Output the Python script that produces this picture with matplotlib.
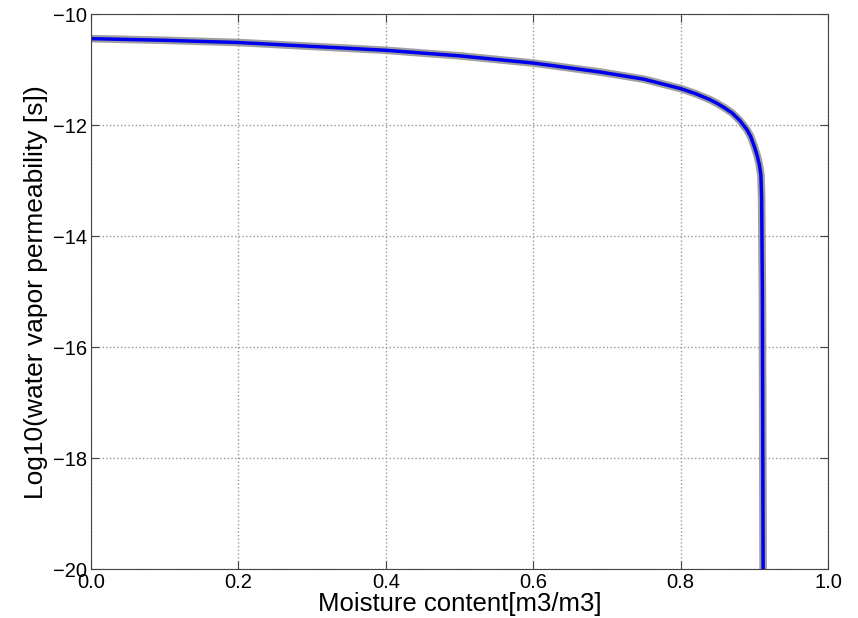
import numpy as np
import matplotlib
matplotlib.use("Agg")
import matplotlib.pyplot as plt

# values
moisture = [0.0, 0.1, 0.2, 0.3, 0.4, 0.5, 0.6, 0.69, 0.75, 0.8, 0.82, 0.84, 0.85, 0.86,
            0.87, 0.88, 0.89, 0.895, 0.9, 0.904, 0.907, 0.909, 0.910, 0.911, 0.912]
log_perm = [-10.44, -10.47, -10.51, -10.58, -10.65, -10.75, -10.88, -11.04, -11.17, -11.34,
            -11.43, -11.54, -11.61, -11.69, -11.78, -11.91, -12.08, -12.2, -12.38, -12.55,
            -12.72, -12.9, -13.3, -15.0, -20.0]

plt.rcParams['font.family'] = ['Liberation Sans', 'DejaVu Sans']

fig = plt.figure(figsize=(8.58, 6.18), dpi=100)
ax = fig.add_axes([0.106, 0.079, 0.859, 0.898])

# grey halo underneath, blue line on top
ax.plot(moisture, log_perm, color='grey', linewidth=5.5, alpha=0.75, solid_capstyle='butt')
ax.plot(moisture, log_perm, color='#0000ee', linewidth=2.5, solid_capstyle='butt')

ax.set_xlim(0, 1)
ax.set_ylim(-20, -10)
ax.set_xticks(np.arange(0, 1.01, 0.2))
ax.set_yticks(np.arange(-20, -9.9, 2))
ax.set_xticklabels(['0.0', '0.2', '0.4', '0.6', '0.8', '1.0'])

ax.grid(True, linestyle=':', color='#999999', linewidth=1)
ax.tick_params(direction='in', top=True, right=True, length=6, labelsize=14.5, pad=3, color='#444444')
for s in ax.spines.values():
    s.set_color('#444444')

ax.set_xlabel('Moisture content[m3/m3]', fontsize=18.5, labelpad=0)
ax.set_ylabel('Log10(water vapor permeability [s])', fontsize=19, labelpad=3)

fig.savefig('out.png', dpi=100)
